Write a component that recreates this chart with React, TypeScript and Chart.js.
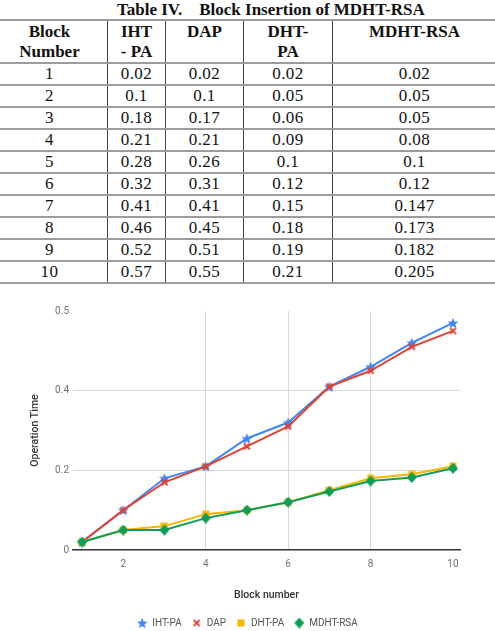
import React, { useEffect, useRef } from "react";
import { Chart, registerables } from "chart.js";

Chart.register(...registerables);

// Block insertion timings per scheme
const blockNumbers = [1, 2, 3, 4, 5, 6, 7, 8, 9, 10];
const ihtPa = [0.02, 0.1, 0.18, 0.21, 0.28, 0.32, 0.41, 0.46, 0.52, 0.57];
const dap = [0.02, 0.1, 0.17, 0.21, 0.26, 0.31, 0.41, 0.45, 0.51, 0.55];
const dhtPa = [0.02, 0.05, 0.06, 0.09, 0.1, 0.12, 0.15, 0.18, 0.19, 0.21];
const mdhtRsa = [0.02, 0.05, 0.05, 0.08, 0.1, 0.12, 0.147, 0.173, 0.182, 0.205];

const seriesNames = ["IHT-PA", "DAP", "DHT-PA", "MDHT-RSA"];
const tableTitle = "Table IV.    Block Insertion of MDHT-RSA";
const tableHeaders = [["Block", "Number"], ["IHT", "- PA"], ["DAP"], ["DHT-", "PA"], ["MDHT-RSA"]];

const xTickValues = [2, 4, 6, 8, 10];
const xGridValues = [4, 6, 8];
const yTickValues = [0, 0.2, 0.4, 0.6];
const yTickLabels = ["0", "0.2", "0.4", "0.5"];

const COLORS = ["#4285F4", "#DB4437", "#F4B400", "#0F9D58"];

type MarkerKind = "star" | "cross" | "square" | "diamond";

function makeMarker(kind: MarkerKind, color: string): HTMLCanvasElement {
  const c = document.createElement("canvas");
  const ctx = c.getContext("2d")!;
  if (kind === "star") {
    c.width = 12;
    c.height = 12;
    ctx.fillStyle = color;
    ctx.beginPath();
    for (let i = 0; i < 10; i++) {
      const r = i % 2 === 0 ? 5.8 : 2.4;
      const a = -Math.PI / 2 + (i * Math.PI) / 5;
      const x = 6 + r * Math.cos(a);
      const y = 6.5 + r * Math.sin(a);
      if (i === 0) ctx.moveTo(x, y);
      else ctx.lineTo(x, y);
    }
    ctx.closePath();
    ctx.fill();
  } else if (kind === "cross") {
    c.width = 9;
    c.height = 9;
    ctx.strokeStyle = color;
    ctx.lineWidth = 1.8;
    ctx.beginPath();
    ctx.moveTo(1.5, 1.5);
    ctx.lineTo(7.5, 7.5);
    ctx.moveTo(7.5, 1.5);
    ctx.lineTo(1.5, 7.5);
    ctx.stroke();
  } else if (kind === "square") {
    c.width = 8;
    c.height = 8;
    ctx.fillStyle = color;
    ctx.fillRect(0.5, 0.5, 7, 7);
  } else {
    c.width = 10;
    c.height = 11;
    ctx.fillStyle = color;
    ctx.beginPath();
    ctx.moveTo(5, 0);
    ctx.lineTo(10, 5.5);
    ctx.lineTo(5, 11);
    ctx.lineTo(0, 5.5);
    ctx.closePath();
    ctx.fill();
  }
  return c;
}

const serif = '"Liberation Serif", "Times New Roman", serif';

function DataTable() {
  const rows = blockNumbers.map((b, i) => [b, ihtPa[i], dap[i], dhtPa[i], mdhtRsa[i]]);
  const colWidths = [116, 58, 78, 89, 164];
  const cellBase: React.CSSProperties = {
    borderTop: "2px solid #9c9c9c",
    borderBottom: "2px solid #9c9c9c",
    borderLeft: "1px solid #444",
    borderRight: "1px solid #444",
    textAlign: "center",
    padding: 0,
  };
  return (
    <div style={{ position: "absolute", left: 0, top: 0, width: 495, height: 290, overflow: "hidden" }}>
      <div
        style={{
          position: "absolute",
          left: 117,
          top: 0,
          whiteSpace: "pre",
          fontFamily: serif,
          fontWeight: "bold",
          fontSize: 17,
          lineHeight: "20px",
          color: "#111",
        }}
      >
        {tableTitle}
      </div>
      <table
        style={{
          position: "absolute",
          left: -9,
          top: 19,
          width: 506,
          borderCollapse: "collapse",
          tableLayout: "fixed",
          fontFamily: serif,
          fontSize: 17,
          color: "#111",
        }}
      >
        <colgroup>
          {colWidths.map((w, i) => (
            <col key={i} style={{ width: w }} />
          ))}
        </colgroup>
        <thead>
          <tr style={{ height: 43 }}>
            {tableHeaders.map((lines, i) => (
              <th
                key={i}
                style={{ ...cellBase, verticalAlign: "top", fontWeight: "bold", lineHeight: "20px", paddingTop: 1 }}
              >
                {lines.map((l, j) => (
                  <div key={j}>{l}</div>
                ))}
              </th>
            ))}
          </tr>
        </thead>
        <tbody>
          {rows.map((r, i) => (
            <tr key={i} style={{ height: 22 }}>
              {r.map((v, j) => (
                <td key={j} style={{ ...cellBase, lineHeight: "18px", letterSpacing: 0.4 }}>
                  {String(v)}
                </td>
              ))}
            </tr>
          ))}
        </tbody>
      </table>
    </div>
  );
}

function LineChart() {
  const ref = useRef<HTMLCanvasElement | null>(null);

  useEffect(() => {
    if (!ref.current) return;
    const markers = [
      makeMarker("star", COLORS[0]),
      makeMarker("cross", COLORS[1]),
      makeMarker("square", COLORS[2]),
      makeMarker("diamond", COLORS[3]),
    ];
    const values = [ihtPa, dap, dhtPa, mdhtRsa];
    const tickFont = { family: "Roboto, Arial, sans-serif", size: 10 };
    const titleFont = { family: "Roboto, Arial, sans-serif", size: 10.5, weight: 500 as any };

    const chart = new Chart(ref.current, {
      type: "line",
      data: {
        datasets: values.map((vals, i) => ({
          label: seriesNames[i],
          data: blockNumbers.map((b, k) => ({ x: b, y: vals[k] })),
          borderColor: COLORS[i],
          backgroundColor: COLORS[i],
          borderWidth: 2,
          pointStyle: markers[i],
          pointRadius: 5,
          order: values.length - i,
          tension: 0,
        })),
      },
      options: {
        animation: false,
        responsive: false,
        devicePixelRatio: 1,
        layout: { padding: { top: 21, right: 0, left: 0, bottom: 0 } },
        plugins: {
          tooltip: { enabled: false },
          legend: {
            position: "bottom",
            labels: {
              usePointStyle: true,
              font: tickFont,
              color: "#555",
              padding: 10,
              sort: (a: any, b: any) => a.datasetIndex - b.datasetIndex,
            },
          },
        },
        scales: {
          x: {
            type: "linear",
            min: 0.78,
            max: 10.17,
            afterBuildTicks: (s: any) => {
              s.ticks = xTickValues.map((v) => ({ value: v }));
            },
            afterFit: (s: any) => {
              s.height = 58;
            },
            grid: {
              drawTicks: false,
              color: (ctx: any) =>
                ctx.tick && xGridValues.includes(ctx.tick.value) ? "#d9d9d9" : "rgba(0,0,0,0)",
            },
            border: { display: true, color: "#333", width: 1.5 },
            ticks: { padding: 8, color: "#707070", font: tickFont, callback: (v: any) => String(v) },
            title: {
              display: true,
              text: "Block number",
              color: "#333",
              font: titleFont,
              padding: { top: 0, bottom: 6 },
            },
          },
          y: {
            type: "linear",
            min: 0,
            max: 0.6,
            afterBuildTicks: (s: any) => {
              s.ticks = yTickValues.map((v) => ({ value: v }));
            },
            afterFit: (s: any) => {
              s.width = 73;
            },
            grid: {
              drawTicks: false,
              color: (ctx: any) =>
                ctx.tick && (ctx.tick.value === 0.2 || ctx.tick.value === 0.4) ? "#d9d9d9" : "rgba(0,0,0,0)",
            },
            border: { display: false },
            ticks: {
              padding: 4,
              color: "#707070",
              font: tickFont,
              callback: (_v: any, i: number) => yTickLabels[i],
            },
            title: {
              display: true,
              text: "Operation Time",
              color: "#333",
              font: titleFont,
              padding: { top: 29, bottom: 0 },
            },
          },
          yRight: {
            type: "linear",
            position: "right",
            display: true,
            grid: { display: false, drawTicks: false },
            border: { display: false },
            ticks: { display: false },
            afterFit: (s: any) => {
              s.width = 35;
            },
          },
        },
      },
    } as any);

    return () => chart.destroy();
  }, []);

  return (
    <div style={{ position: "absolute", left: 0, top: 290, width: 495, height: 341, overflow: "hidden" }}>
      <canvas ref={ref} width={495} height={348} style={{ display: "block", width: 495, height: 348 }} />
    </div>
  );
}

export default function App() {
  return (
    <div style={{ position: "absolute", left: 0, top: 0, width: 495, height: 631, overflow: "hidden", background: "#fff" }}>
      <DataTable />
      <LineChart />
    </div>
  );
}
